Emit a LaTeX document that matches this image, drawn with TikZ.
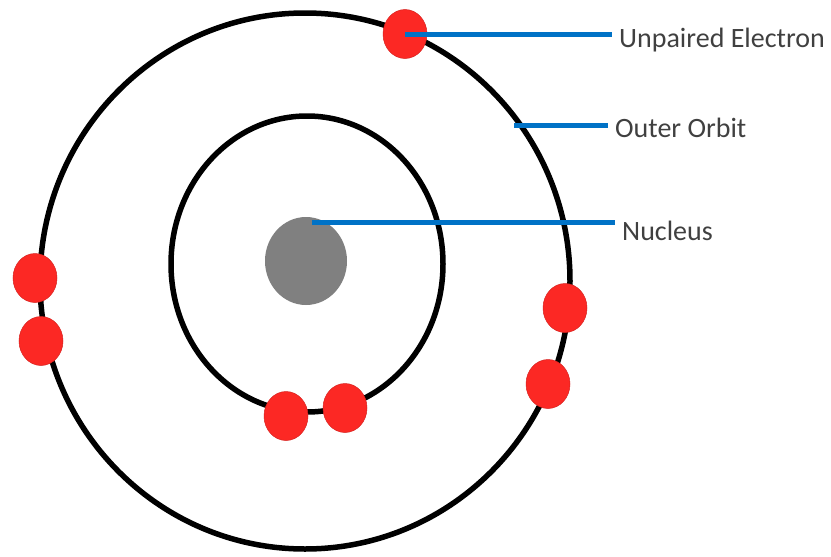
\documentclass[tikz,border=0pt]{standalone}
\usepackage{fontspec}
\setmainfont{Carlito}
\usetikzlibrary{shapes.geometric}
\definecolor{eleccol}{RGB}{252,40,36}
\definecolor{leadcol}{RGB}{0,114,198}
\definecolor{nuccol}{RGB}{128,128,128}
\definecolor{labcol}{RGB}{64,64,64}

\begin{document}
\begin{tikzpicture}[x=1pt, y=-1pt,
  orbit/.style={line width=5.5pt, black},
  nucleus/.style={ellipse, fill=nuccol, minimum width=82pt, minimum height=88pt, inner sep=0pt},
  elec/.style={ellipse, fill=eleccol, draw=eleccol!85!black, line width=0.5pt, minimum width=44pt, minimum height=49pt, inner sep=0pt},
  lead/.style={line width=5pt, leadcol},
  lbl/.style={anchor=base west, text=labcol, font=\fontsize{28}{32}\selectfont, inner xsep=7pt, inner ysep=0pt},
]
\useasboundingbox (0,0) rectangle (831,557);
% orbits
\draw[orbit] (307,264) ellipse [x radius=136pt, y radius=148pt];
\draw[orbit] (305,281) ellipse [x radius=265pt, y radius=268pt];
% nucleus
\node[nucleus] (nuc) at (306,261) {};
% electrons (e1 = unpaired)
\foreach \n/\p in {1/{405,34}, 2/{35,278}, 3/{41,341}, 4/{565,308}, 5/{548,384}, 6/{286,416}, 7/{345,408}}
  \node[elec] (e\n) at (\p) {};
% labels
\node[lbl] (lunp) at (612,47) {Unpaired Electron};
\node[lbl] (lorb) at (608,137) {Outer Orbit};
\node[lbl] (lnuc) at (615,240) {Nucleus};
% leaders
\coordinate (orbpt) at (514,125);
\coordinate (nucpt) at (312,222);
\draw[lead] (e1.center) -- (e1.center -| lunp.west);
\draw[lead] (orbpt) -- (orbpt -| lorb.west);
\draw[lead] (nucpt) -- (nucpt -| lnuc.west);
\end{tikzpicture}
\end{document}
